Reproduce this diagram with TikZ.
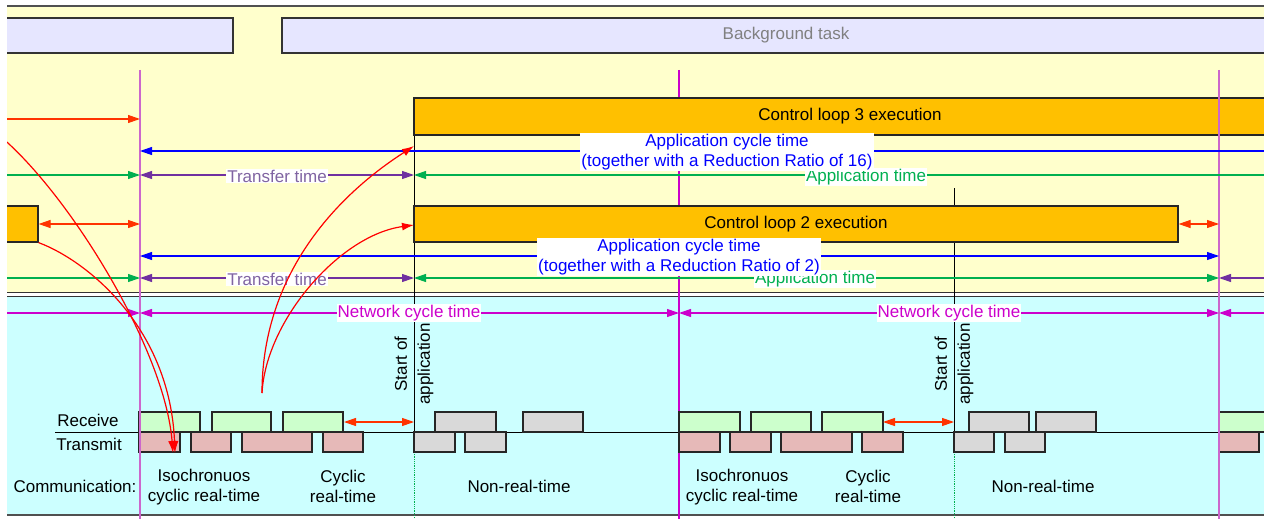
\documentclass[tikz,border=0pt]{standalone}
\usepackage{fontspec}
\setmainfont{Liberation Sans}
\usetikzlibrary{arrows.meta}

\definecolor{bgyellow}{HTML}{FFFFCC}
\definecolor{bgcyan}{HTML}{CCFFFF}
\definecolor{taskfill}{HTML}{E6E6FF}
\definecolor{ctrlfill}{HTML}{FFC000}
\definecolor{rxfill}{HTML}{CCFFCC}
\definecolor{txfill}{HTML}{E6B9B8}
\definecolor{nrtfill}{HTML}{D9D9D9}
\definecolor{redarr}{HTML}{FF3300}
\definecolor{appgreen}{HTML}{00B050}
\definecolor{xferline}{HTML}{7030A0}
\definecolor{xfertext}{HTML}{8064A2}
\definecolor{netmag}{HTML}{CC00CC}
\definecolor{cycleline}{HTML}{CC66CC}
\definecolor{framegray}{HTML}{505050}

\tikzset{
  taskbox/.style={draw=black!80,line width=1.2pt,fill=taskfill},
  ctrlbox/.style={draw=black!85,line width=1.2pt,fill=ctrlfill},
  rxbox/.style={draw=black!85,line width=1.2pt,fill=rxfill},
  txbox/.style={draw=black!85,line width=1.2pt,fill=txfill},
  nrtbox/.style={draw=black!85,line width=1.2pt,fill=nrtfill},
  timearr/.style={line width=1.1pt},
  lbl/.style={fill=white,inner sep=1pt},
  curvearr/.style={red,line width=1.2pt,-{Latex[length=12pt,width=8pt]}}
}

\begin{document}
\begin{tikzpicture}[x=1pt,y=-1pt,>={Triangle[length=12pt,width=8pt]},
  every node/.style={font=\fontsize{17}{20}\selectfont}]
\useasboundingbox (0,0) rectangle (1264,519);
\begin{scope}
\clip (7,0) rectangle (1264,519);

% backgrounds
\fill[bgyellow] (7,6) rectangle (1264,293);
\fill[white] (7,293) rectangle (1264,297);
\fill[bgcyan] (7,297) rectangle (1264,515);
\draw[framegray,line width=2pt] (7,6) -- (1264,6);
\draw[black!80,line width=1pt] (7,292.5) -- (1264,292.5);
\draw[black!80,line width=1pt] (7,296.5) -- (1264,296.5);
\draw[framegray,line width=2pt] (7,515) -- (1264,515);

% background task
\node[taskbox,minimum width=266pt,minimum height=35pt] (task1) at (100,35.5) {};
\node[taskbox,minimum width=1008pt,minimum height=35pt,text=gray] (task2) at (786,35.5) {\raisebox{-1.5pt}{Background task}};

% time marks
\draw[netmag,line width=1.1pt] (679,70) -- (679,519);
\draw[black,line width=1pt] (414,98) -- (414,452);
\draw[black,line width=1pt] (954,188) -- (954,452);
\draw[appgreen,densely dotted,line width=0.8pt] (414,452) -- (414,519);
\draw[appgreen,densely dotted,line width=0.8pt] (954,452) -- (954,519);

% control loops
\node[ctrlbox,minimum width=872pt,minimum height=37pt] (cl3) at (850,116.5) {\raisebox{-1.5pt}{Control loop 3 execution}};
\node[ctrlbox,minimum width=764pt,minimum height=36pt] (cl2) at (796,224) {\raisebox{-1.5pt}{Control loop 2 execution}};
\node[ctrlbox,minimum width=60pt,minimum height=36pt] (cl1) at (8,224) {};

% frames on the network
\draw[black,line width=1pt] (55,432) -- (1264,432);
\foreach \a/\b in {139/200,212/271,283/343,679/740,751/811,822/883,1219/1290}
  \draw[rxbox] (\a,412) rectangle (\b,432);
\foreach \a/\b in {139/180,191/231,242/312,323/363,679/720,730/771,781/852,862/903,1219/1259}
  \draw[txbox] (\a,432) rectangle (\b,452);
\foreach \a/\b in {435/496,523/583,969/1029,1036/1096}
  \draw[nrtbox] (\a,412) rectangle (\b,432);
\foreach \a/\b in {414/455,465/506,954/994,1005/1045}
  \draw[nrtbox] (\a,432) rectangle (\b,452);

% network cycle borders
\draw[cycleline,line width=2pt] (140,70) -- (140,519);
\draw[cycleline,line width=2pt] (1219,70) -- (1219,519);

% red gaps
\draw[redarr,timearr,->] (0,119) -- (140,119);
\draw[redarr,timearr,<->] (cl1.east) -- (140,224);
\draw[redarr,timearr,<->] (cl2.east) -- (1219,224);
\draw[redarr,timearr,<->] (344,422) -- (414,422);
\draw[redarr,timearr,<->] (883,422) -- (954,422);

% application cycle
\draw[blue,timearr,->] (1280,151) -- (140,151);
\draw[blue,timearr,<->] (140,256) -- (1219,256);

% application time
\draw[appgreen,timearr,->] (0,175) -- (140,175);
\draw[appgreen,timearr,->] (1280,175) -- (414,175);
\draw[appgreen,timearr,->] (0,278) -- (140,278);
\draw[appgreen,timearr,<->] (414,278) -- (1219,278);

% transfer time
\draw[xferline,timearr,<->] (140,175) -- (414,175);
\draw[xferline,timearr,<->] (140,278) -- (414,278);
\draw[xferline,timearr,->] (1280,278) -- (1219,278);

% network cycle
\draw[netmag,timearr,->] (0,313) -- (140,313);
\draw[netmag,timearr,<->] (140,313) -- (679,313);
\draw[netmag,timearr,<->] (679,313) -- (1219,313);
\draw[netmag,timearr,->] (1280,313) -- (1219,313);

% labels
\node[lbl,text=xfertext] (tt1) at (277,176) {Transfer time};
\node[lbl,text=xfertext] (tt2) at (277,279) {Transfer time};
\node[lbl,text=appgreen] (at1) at (866,177) {Application time};
\node[lbl,text=appgreen] (at2) at (815,279) {Application time};
\node[lbl,text=blue,align=center] (act1) at (727,152) {Application cycle time\\(together with a Reduction Ratio of 16)};
\node[lbl,text=blue,align=center] (act2) at (679,257) {Application cycle time\\(together with a Reduction Ratio of 2)};
\node[lbl,text=netmag] (nc1) at (409,313) {Network cycle time};
\node[lbl,text=netmag] (nc2) at (949,313) {Network cycle time};

\node[rotate=90,align=center,font=\fontsize{17}{23}\selectfont] (soa1) at (414,364) {Start of\\application};
\node[rotate=90,align=center,font=\fontsize{17}{23}\selectfont] (soa2) at (954,364) {Start of\\application};

\node (rx) at (88,420) {Receive};
\node (tx) at (89,444) {Transmit};
\node (comm) at (75,486) {Communication:};
\node[align=center] (iso1) at (204,487) {Isochronuos\\cyclic real-time};
\node[align=center] (cyc1) at (343,486) {Cyclic\\real-time};
\node (nrt1) at (519,486) {Non-real-time};
\node[align=center] (iso2) at (742,487) {Isochronuos\\cyclic real-time};
\node[align=center] (cyc2) at (868,486) {Cyclic\\real-time};
\node (nrt2) at (1043,486) {Non-real-time};

% data flow
\coordinate (in0) at (0,136);
\coordinate (txin) at (173,453);
\coordinate (txin2) at (175,453);
\coordinate (out0) at (262,393);
\coordinate (cl3in) at (414,146);
\coordinate (cl2in) at (414,225);
\draw[curvearr] (in0) .. controls (70,195) and (165,350) .. (txin);
\draw[curvearr] (cl1.south east) .. controls (90,262) and (170,330) .. (txin2);
\draw[curvearr] (out0) .. controls (262,280) and (330,200) .. (cl3in);
\draw[curvearr] (out0) .. controls (266,320) and (340,235) .. (cl2in);
\end{scope}
\end{tikzpicture}
\end{document}
